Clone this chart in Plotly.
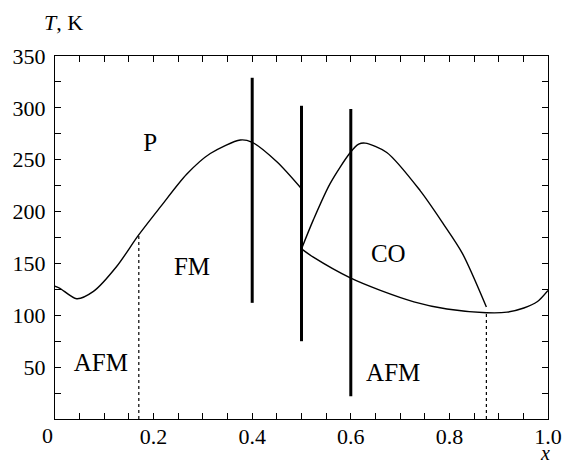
import plotly.graph_objects as go

# Left boundary curve (P / FM / AFM)
x1 = [0.0, 0.010, 0.044, 0.078, 0.125, 0.169, 0.213, 0.267, 0.315, 0.376, 0.399, 0.450, 0.5]
t1 = [128, 126, 116, 123, 147, 177, 204, 236, 256, 269, 267, 248, 222]

# CO dome (upper boundary)
x2 = [0.5, 0.524, 0.558, 0.599, 0.616, 0.629, 0.673, 0.741, 0.788, 0.826, 0.875]
t2 = [164, 192, 227, 257, 265, 266, 257, 220, 188, 160, 108]

# Lower boundary (CO / AFM) continuing to the right edge
x3 = [0.5, 0.524, 0.599, 0.660, 0.728, 0.795, 0.875, 0.917, 0.951, 0.978, 1.0]
t3 = [164, 156, 136, 124, 113, 106, 102.5, 103, 107, 113, 124]

# Thick vertical bars
xv = [0.4, 0.5, 0.6]
tv_lo = [112, 75, 22]
tv_hi = [329, 302, 299]

# Dotted vertical lines
xd = [0.17, 0.875]
td_hi = [177, 102.5]

# Region labels
lab_text = ["P", "FM", "AFM", "CO", "AFM"]
lab_x = [0.193, 0.278, 0.093, 0.676, 0.686]
lab_t = [264, 145, 52, 157, 43]

# Ticks
xtick_vals = [round(0.05 * i, 2) for i in range(1, 21)]
xlabels = {0.2: "0.2", 0.4: "0.4", 0.6: "0.6", 0.8: "0.8", 1.0: "1.0"}
xtick_text = [xlabels.get(v, "") for v in xtick_vals]
ytick_vals = [25 * i for i in range(1, 15)]
ytick_text = [str(v) if v % 50 == 0 else "" for v in ytick_vals]

FONT = "Liberation Serif"
fig = go.Figure()

line = dict(color="black", width=1.4, shape="spline", smoothing=0.8)
for xs, ts in [(x1, t1), (x2, t2), (x3, t3)]:
    fig.add_trace(go.Scatter(x=xs, y=ts, mode="lines", line=line, hoverinfo="skip"))

for x, lo, hi in zip(xv, tv_lo, tv_hi):
    fig.add_trace(go.Scatter(x=[x, x], y=[lo, hi], mode="lines",
                             line=dict(color="black", width=3), hoverinfo="skip"))

for x, hi in zip(xd, td_hi):
    fig.add_trace(go.Scatter(x=[x, x], y=[0, hi], mode="lines",
                             line=dict(color="black", width=1.2, dash="dot"), hoverinfo="skip"))

fig.add_trace(go.Scatter(x=lab_x, y=lab_t, mode="text", text=lab_text,
                         textfont=dict(family=FONT, size=25, color="black"),
                         hoverinfo="skip"))

axis_common = dict(tickmode="array", ticks="inside", ticklen=6, tickwidth=1,
                   tickcolor="black", showline=True, linecolor="black", linewidth=1.2,
                   mirror="ticks", showgrid=False, zeroline=False, automargin=False,
                   tickfont=dict(family=FONT, size=22, color="black"))

fig.update_layout(
    template="none",
    width=563, height=463,
    margin=dict(l=55, r=15, t=56, b=44, pad=0),
    plot_bgcolor="white", paper_bgcolor="white",
    showlegend=False,
    font=dict(family=FONT, size=22, color="black"),
    xaxis=dict(range=[0, 1], tickvals=xtick_vals, ticktext=xtick_text,
               ticklabelstandoff=-3, **axis_common),
    yaxis=dict(range=[0, 350], tickvals=ytick_vals, ticktext=ytick_text,
               ticklabelstandoff=4, **axis_common),
    annotations=[
        dict(text="0", xref="paper", yref="paper", x=-0.03, y=0, yshift=-16,
             yanchor="middle", showarrow=False, font=dict(family=FONT, size=22)),
        dict(text="<i>T</i>, K", xref="paper", yref="paper", x=-0.026, y=1, yshift=34,
             xanchor="left", yanchor="middle", showarrow=False,
             font=dict(family=FONT, size=22)),
        dict(text="<i>x</i>", xref="paper", yref="paper", x=1.009, y=0, yshift=-34,
             yanchor="middle", showarrow=False, font=dict(family=FONT, size=20)),
    ],
)

fig.write_html("out.html", config={"displayModeBar": False},
               post_script="document.body.style.margin='0';document.body.style.padding='0';")
